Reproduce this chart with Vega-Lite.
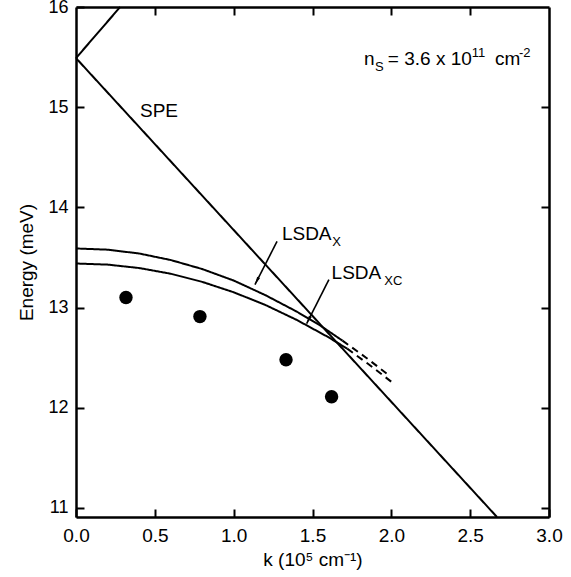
{
  "$schema": "https://vega.github.io/schema/vega-lite/v6.json",
  "width": 473,
  "height": 510,
  "autosize": {"type": "none"},
  "padding": {"left": 76, "top": 7, "right": 22, "bottom": 60},
  "background": "white",
  "config": {
    "view": {"stroke": null},
    "font": "Liberation Sans",
    "axis": {
      "grid": false,
      "domainColor": "black",
      "domainWidth": 2.5,
      "tickColor": "black",
      "tickWidth": 2,
      "tickSize": -8,
      "labelFlush": false,
      "labelFont": "Liberation Sans",
      "labelFontSize": 19,
      "labelColor": "black",
      "titleFont": "Liberation Sans",
      "titleFontSize": 19,
      "titleFontWeight": "normal",
      "titleColor": "black"
    }
  },
  "datasets": {
    "curves": [
      {"curve": "SPE", "part": "solid", "k": 0, "E": 15.49},
      {"curve": "SPE", "part": "solid", "k": 2.67, "E": 10.91},
      {"curve": "SPE2", "part": "solid", "k": 0, "E": 15.49},
      {"curve": "SPE2", "part": "solid", "k": 0.28, "E": 16.0},
      {"curve": "LSDAX", "part": "solid", "k": 0, "E": 13.59},
      {"curve": "LSDAX", "part": "solid", "k": 0.2, "E": 13.578},
      {"curve": "LSDAX", "part": "solid", "k": 0.4, "E": 13.54},
      {"curve": "LSDAX", "part": "solid", "k": 0.6, "E": 13.475},
      {"curve": "LSDAX", "part": "solid", "k": 0.8, "E": 13.385},
      {"curve": "LSDAX", "part": "solid", "k": 1.0, "E": 13.27},
      {"curve": "LSDAX", "part": "solid", "k": 1.2, "E": 13.125},
      {"curve": "LSDAX", "part": "solid", "k": 1.4, "E": 12.96},
      {"curve": "LSDAX", "part": "solid", "k": 1.55, "E": 12.82},
      {"curve": "LSDAX", "part": "solid", "k": 1.69, "E": 12.67},
      {"curve": "LSDAXd", "part": "dashed", "k": 1.69, "E": 12.67},
      {"curve": "LSDAXd", "part": "dashed", "k": 1.84, "E": 12.50},
      {"curve": "LSDAXd", "part": "dashed", "k": 1.98, "E": 12.33},
      {"curve": "LSDAXC", "part": "solid", "k": 0, "E": 13.44},
      {"curve": "LSDAXC", "part": "solid", "k": 0.2, "E": 13.429},
      {"curve": "LSDAXC", "part": "solid", "k": 0.4, "E": 13.395},
      {"curve": "LSDAXC", "part": "solid", "k": 0.6, "E": 13.338},
      {"curve": "LSDAXC", "part": "solid", "k": 0.8, "E": 13.257},
      {"curve": "LSDAXC", "part": "solid", "k": 1.0, "E": 13.153},
      {"curve": "LSDAXC", "part": "solid", "k": 1.2, "E": 13.027},
      {"curve": "LSDAXC", "part": "solid", "k": 1.4, "E": 12.877},
      {"curve": "LSDAXC", "part": "solid", "k": 1.6, "E": 12.705},
      {"curve": "LSDAXC", "part": "solid", "k": 1.72, "E": 12.59},
      {"curve": "LSDAXCd", "part": "dashed", "k": 1.72, "E": 12.59},
      {"curve": "LSDAXCd", "part": "dashed", "k": 1.86, "E": 12.43},
      {"curve": "LSDAXCd", "part": "dashed", "k": 2.0, "E": 12.26}
    ],
    "points": [
      {"k": 0.317, "E": 13.10},
      {"k": 0.786, "E": 12.91},
      {"k": 1.332, "E": 12.48},
      {"k": 1.621, "E": 12.11}
    ],
    "arrows": [
      {"arrow": "X", "k": 1.275, "E": 13.66},
      {"arrow": "X", "k": 1.135, "E": 13.23},
      {"arrow": "XC", "k": 1.604, "E": 13.28},
      {"arrow": "XC", "k": 1.463, "E": 12.84}
    ],
    "heads": [
      {"k": 1.135, "E": 13.23},
      {"k": 1.463, "E": 12.84}
    ],
    "bigtext": [
      {"t": "SPE", "k": 0.406, "E": 14.90},
      {"t": "LSDA", "k": 1.306, "E": 13.676},
      {"t": "LSDA", "k": 1.621, "E": 13.281},
      {"t": "n", "k": 1.826, "E": 15.426},
      {"t": "= 3.6 x 10", "k": 1.978, "E": 15.426},
      {"t": "cm", "k": 2.658, "E": 15.426}
    ],
    "smalltext": [
      {"t": "X", "k": 1.625, "E": 13.61},
      {"t": "XC", "k": 1.955, "E": 13.228},
      {"t": "S", "k": 1.896, "E": 15.366},
      {"t": "11", "k": 2.51, "E": 15.505},
      {"t": "-2", "k": 2.81, "E": 15.505}
    ]
  },
  "resolve": {"axis": {"x": "independent", "y": "independent"}},
  "layer": [
    {
      "data": {"name": "curves"},
      "mark": {"type": "line", "color": "black", "strokeWidth": 2},
      "encoding": {
        "x": {"field": "k", "type": "quantitative", "scale": {"domain": [0, 3], "nice": false, "zero": false},
              "axis": {"orient": "bottom", "values": [0, 0.5, 1, 1.5, 2, 2.5, 3], "format": ".1f", "labelPadding": 17, "title": "k (10⁵ cm⁻¹)", "titlePadding": 5}},
        "y": {"field": "E", "type": "quantitative", "scale": {"domain": [10.91, 16], "nice": false, "zero": false},
              "axis": {"orient": "left", "values": [11, 12, 13, 14, 15, 16], "labelPadding": 16, "labelFontSize": 18, "title": "Energy (meV)", "titlePadding": 11}},
        "detail": {"field": "curve"},
        "strokeDash": {"field": "part", "type": "nominal", "scale": {"domain": ["solid", "dashed"], "range": [[1, 0], [7, 5]]}, "legend": null}
      }
    },
    {
      "data": {"name": "points"},
      "mark": {"type": "point", "filled": true, "color": "black", "size": 180, "opacity": 1},
      "encoding": {
        "x": {"field": "k", "type": "quantitative",
              "axis": {"orient": "top", "values": [0.5, 1, 1.5, 2, 2.5], "labels": false, "title": null}},
        "y": {"field": "E", "type": "quantitative",
              "axis": {"orient": "right", "values": [11, 12, 13, 14, 15], "labels": false, "title": null}}
      }
    },
    {
      "data": {"name": "arrows"},
      "mark": {"type": "line", "color": "black", "strokeWidth": 1.6},
      "encoding": {
        "x": {"field": "k", "type": "quantitative", "axis": null},
        "y": {"field": "E", "type": "quantitative", "axis": null},
        "detail": {"field": "arrow"}
      }
    },
    {
      "data": {"name": "heads"},
      "mark": {"type": "point", "filled": true, "color": "black", "opacity": 1, "size": 64, "angle": 27,
               "shape": "M -0.4 -2 L 0 0 L 0.4 -2 Z"},
      "encoding": {
        "x": {"field": "k", "type": "quantitative", "axis": null},
        "y": {"field": "E", "type": "quantitative", "axis": null}
      }
    },
    {
      "data": {"name": "bigtext"},
      "mark": {"type": "text", "align": "left", "baseline": "alphabetic", "fontSize": 19, "color": "black", "font": "Liberation Sans"},
      "encoding": {
        "x": {"field": "k", "type": "quantitative", "axis": null},
        "y": {"field": "E", "type": "quantitative", "axis": null},
        "text": {"field": "t"}
      }
    },
    {
      "data": {"name": "smalltext"},
      "mark": {"type": "text", "align": "left", "baseline": "alphabetic", "fontSize": 13, "color": "black", "font": "Liberation Sans"},
      "encoding": {
        "x": {"field": "k", "type": "quantitative", "axis": null},
        "y": {"field": "E", "type": "quantitative", "axis": null},
        "text": {"field": "t"}
      }
    }
  ]
}
